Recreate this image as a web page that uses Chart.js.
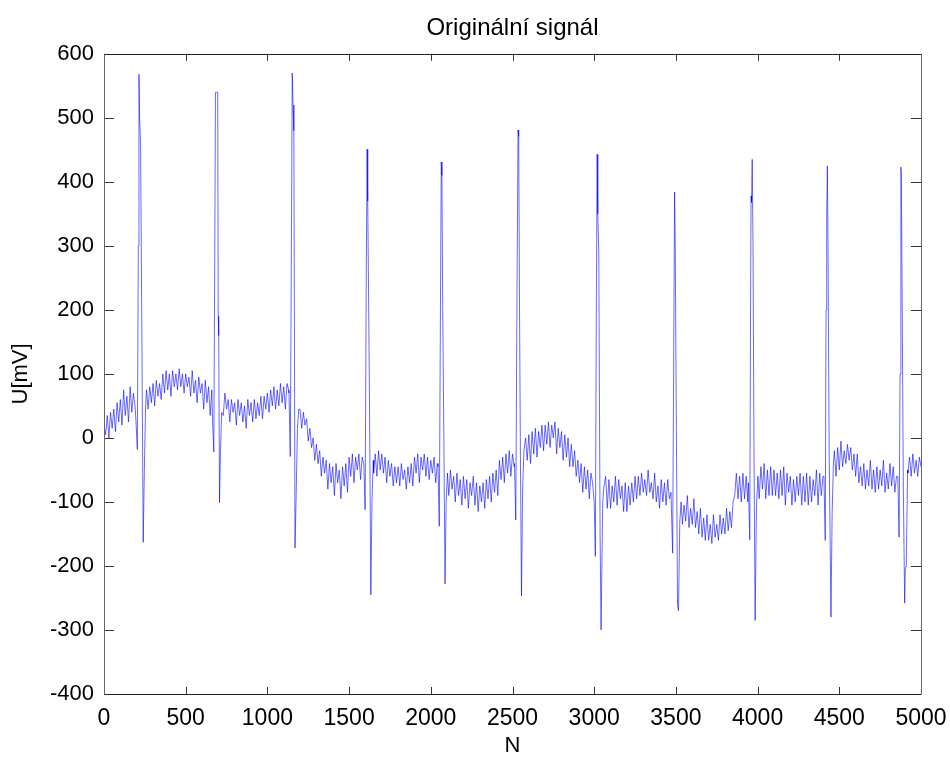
<!DOCTYPE html>
<html>
<head>
<meta charset="utf-8">
<script src="https://cdn.jsdelivr.net/npm/chart.js@4/dist/chart.umd.min.js"></script>
<style>
  html, body { margin: 0; padding: 0; background: #fff; }
  canvas { display: block; }
</style>
</head>
<body>
<canvas id="c" width="950" height="759"></canvas>
<script>
// ---- data ----
const chartTitle = 'Originální signál';
const xAxisLabel = 'N';
const yAxisLabel = 'U[mV]';
const xTickValues = [0, 500, 1000, 1500, 2000, 2500, 3000, 3500, 4000, 4500, 5000];
const yTickValues = [-400, -300, -200, -100, 0, 100, 200, 300, 400, 500, 600];

// signal every 10 samples (N = 0, 10, ..., 5000)
const sampleStep = 10;
const baselineU = [
  20, 5, 35, 0, 40, 15, 45, 10, 55, 25,
  60, 20, 75, 35, 65, 25, 80, 40, 70, 50,
  10, -15, 400, -100, 40, 50, 75, 45, 80, 55,
  85, 50, 90, 65, 85, 60, 100, 70, 105, 75,
  100, 65, 105, 80, 100, 75, 108, 80, 100, 70,
  100, 80, 95, 65, 105, 70, 90, 55, 95, 70,
  85, 45, 90, 55, 80, 35, 75, 20, 300, 500,
  -90, 20, 65, 35, 70, 45, 60, 25, 60, 40,
  55, 20, 60, 35, 55, 25, 50, 15, 60, 35,
  55, 25, 60, 30, 55, 35, 65, 30, 65, 45,
  70, 40, 75, 50, 80, 45, 75, 50, 85, 55,
  80, 45, 85, 75, -20, 500, 400, -150, 20, 50,
  45, 15, 40, 20, 30, -5, 15, -15, 0, -35,
  -10, -40, -20, -60, -30, -55, -35, -80, -40, -70,
  -45, -90, -40, -70, -50, -95, -45, -75, -40, -85,
  -30, -60, -25, -70, -30, -50, -25, -65, -30, -75,
  400, -200, -60, -40, -20, -55, -25, -60, -20, -50,
  -25, -55, -30, -70, -35, -60, -40, -75, -45, -70,
  -45, -75, -40, -65, -50, -80, -45, -70, -40, -75,
  -30, -55, -25, -70, -30, -50, -25, -60, -30, -65,
  -35, -55, -30, -70, -40, -140, 400, -200, -60, -50,
  -55, -90, -50, -80, -60, -100, -55, -90, -65, -105,
  -60, -95, -65, -110, -70, -90, -60, -105, -70, -115,
  -75, -100, -70, -110, -65, -95, -60, -100, -55, -85,
  -50, -90, -35, -65, -30, -70, -25, -55, -20, -60,
  -25, -45, -130, 450, -200, -50, -10, -50, 0, -35,
  5, -40, 10, -25, 15, -30, 10, -15, 20, -20,
  20, -10, 25, -15, 20, 0, 25, -25, 15, -15,
  10, -35, 5, -30, 0, -45, -10, -45, -20, -60,
  -35, -70, -40, -85, -45, -80, -50, -95, -55, -90,
  -180, 400, -200, -300, -80, -60, -100, -60, -110, -65,
  -110, -75, -100, -60, -105, -65, -95, -75, -115, -70,
  -115, -75, -105, -70, -100, -60, -95, -60, -90, -55,
  -85, -65, -90, -50, -85, -70, -95, -55, -100, -75,
  -110, -65, -100, -70, -105, -65, -95, -170, 380, -250,
  -260, -100, -130, -90, -135, -105, -130, -90, -140, -110,
  -135, -95, -140, -115, -150, -110, -155, -125, -160, -120,
  -160, -135, -165, -120, -155, -135, -160, -120, -150, -125,
  -150, -110, -145, -115, -140, -100, -90, -55, -95, -60,
  -100, -55, -95, -60, -100, -150, 430, -200, -280, -80,
  -50, -95, -45, -80, -40, -95, -50, -90, -45, -90,
  -50, -90, -55, -95, -50, -90, -45, -105, -55, -85,
  -60, -105, -65, -100, -60, -90, -55, -105, -60, -100,
  -55, -105, -60, -100, -65, -90, -50, -105, -55, -90,
  -60, -150, 300, 420, -200, -100, -50, -20, -60, -15,
  -50, -5, -45, -20, -40, -10, -35, -15, -50, -25,
  -60, -25, -70, -45, -75, -40, -80, -50, -75, -35,
  -80, -50, -85, -45, -80, -50, -75, -35, -85, -55,
  -80, -40, -75, -45, -85, -60, -150, 400, -250, -200,
  -100, -25, -55, -30, -60, -25, -55, -35, -60, -30,
  -45
];

// QRS complexes read at finer resolution (sample index / value pairs per beat)
const beatN = [
  [196, 204, 210, 214, 218, 224, 232, 240, 247, 254],
  [664, 672, 679, 682, 696, 699, 702, 707, 713, 720],
  [1132, 1140, 1147, 1152, 1157, 1162, 1169, 1176, 1184, 1192],
  [1590, 1598, 1605, 1610, 1614, 1618, 1625, 1633, 1640, 1648],
  [2044, 2052, 2059, 2064, 2068, 2073, 2080, 2087, 2094, 2102],
  [2512, 2520, 2528, 2534, 2538, 2543, 2549, 2555, 2562, 2570],
  [2990, 3000, 3007, 3013, 3018, 3022, 3028, 3036, 3042, 3052, 3060],
  [3470, 3480, 3486, 3492, 3496, 3502, 3510, 3516, 3524, 3532],
  [3944, 3952, 3957, 3960, 3963, 3967, 3972, 3978, 3985, 3993, 4002],
  [4406, 4414, 4419, 4423, 4427, 4431, 4438, 4449, 4456, 4464],
  [4858, 4866, 4872, 4877, 4880, 4885, 4892, 4900, 4904, 4910, 4918]
];
const beatU = [
  [25, -18, 300, 568, 500, 455, 150, -163, -50, 45],
  [30, -22, 350, 540, 540, 190, 160, -101, -20, 40],
  [70, -29, 300, 570, 520, 480, -172, -90, 15, 45],
  [-40, -112, 250, 451, 370, 260, 50, -245, -100, -35],
  [-45, -138, 200, 431, 410, 200, 0, -228, -100, -55],
  [-40, -128, 250, 481, 471, 200, -50, -247, -80, -20],
  [-70, -100, -185, 200, 443, 350, 290, -150, -300, -100, -75],
  [-85, -180, 100, 384, 300, 50, -262, -270, -130, -100],
  [-70, -159, 200, 378, 368, 435, 300, -30, -285, -107, -60],
  [-60, -160, 200, 345, 425, 300, -20, -280, -120, -40],
  [-60, -155, 100, 423, 407, 200, -80, -258, -205, -200, -50]
];

// ---- build the point table ----
const points = [];
baselineU.forEach((u, i) => {
  const n = i * sampleStep;
  const inBeat = beatN.some(b => n >= b[0] && n <= b[b.length - 1]);
  if (!inBeat) points.push({ x: n, y: u });
});
beatN.forEach((b, k) => b.forEach((n, j) => points.push({ x: n, y: beatU[k][j] })));
points.sort((a, b) => a.x - b.x);

const FONT = "'Liberation Sans', Arial, Helvetica, sans-serif";

const framePlugin = {
  id: 'matlabFrame',
  afterDatasetsDraw(chart) {
    const { ctx, chartArea: a, scales } = chart;
    ctx.save();
    ctx.lineWidth = 1;
    ctx.strokeStyle = '#333';
    const tl = 7;
    scales.x.ticks.forEach(t => {
      const px = Math.round(scales.x.getPixelForValue(t.value)) + 0.5;
      ctx.beginPath();
      ctx.moveTo(px, a.bottom); ctx.lineTo(px, a.bottom - tl);
      ctx.moveTo(px, a.top); ctx.lineTo(px, a.top + tl);
      ctx.stroke();
    });
    scales.y.ticks.forEach(t => {
      const py = Math.round(scales.y.getPixelForValue(t.value)) + 0.5;
      ctx.beginPath();
      ctx.moveTo(a.left, py); ctx.lineTo(a.left + tl + 3, py);
      ctx.moveTo(a.right, py); ctx.lineTo(a.right - tl - 3, py);
      ctx.stroke();
    });
    const L = Math.round(a.left) + 0.5, R = Math.round(a.right) + 0.5;
    const T = Math.round(a.top) + 0.5, B = Math.round(a.bottom) + 0.5;
    ctx.strokeStyle = '#222';
    ctx.beginPath(); ctx.moveTo(L, B); ctx.lineTo(R, B); ctx.moveTo(L, T); ctx.lineTo(R, T); ctx.stroke();
    ctx.strokeStyle = '#666';
    ctx.beginPath(); ctx.moveTo(L, T); ctx.lineTo(L, B); ctx.moveTo(R, T); ctx.lineTo(R, B); ctx.stroke();
    ctx.restore();
  }
};

new Chart(document.getElementById('c'), {
  type: 'line',
  data: {
    datasets: [{
      data: points,
      borderColor: 'rgba(0,0,255,0.85)',
      borderWidth: 0.7,
      pointRadius: 0,
      tension: 0,
      fill: false
    }]
  },
  options: {
    responsive: false,
    animation: false,
    devicePixelRatio: 1,
    layout: { padding: { left: 0, right: 29, top: 0, bottom: 0 } },
    plugins: {
      legend: { display: false },
      tooltip: { enabled: false },
      title: {
        display: true,
        text: chartTitle,
        fullSize: false,
        color: '#000',
        font: { family: FONT, size: 24, weight: 'normal' },
        padding: { top: 14, bottom: 11 }
      }
    },
    scales: {
      x: {
        type: 'linear',
        min: 0, max: 5000,
        afterBuildTicks: s => { s.ticks = xTickValues.map(v => ({ value: v })); },
        ticks: { color: '#000', font: { family: FONT, size: 23 }, padding: 11, maxRotation: 0, autoSkip: false,
                 callback: v => String(v) },
        grid: { display: false, drawTicks: false },
        border: { display: false },
        title: { display: true, text: xAxisLabel, color: '#000', font: { family: FONT, size: 22 }, padding: { top: 0, bottom: 0 } },
        afterFit: s => { s.height = 65; s.paddingLeft = 0; s.paddingRight = 0; }
      },
      y: {
        type: 'linear',
        min: -400, max: 600,
        afterBuildTicks: s => { s.ticks = yTickValues.map(v => ({ value: v })); },
        ticks: { color: '#000', font: { family: FONT, size: 22 }, padding: 10, autoSkip: false,
                 callback: v => String(v) },
        grid: { display: false, drawTicks: false },
        border: { display: false },
        title: { display: true, text: yAxisLabel, color: '#000', font: { family: FONT, size: 22 }, padding: { top: 8, bottom: 0 } },
        afterFit: s => { s.width = 104; s.paddingTop = 0; s.paddingBottom = 0; }
      }
    }
  },
  plugins: [framePlugin]
});
</script>
</body>
</html>
